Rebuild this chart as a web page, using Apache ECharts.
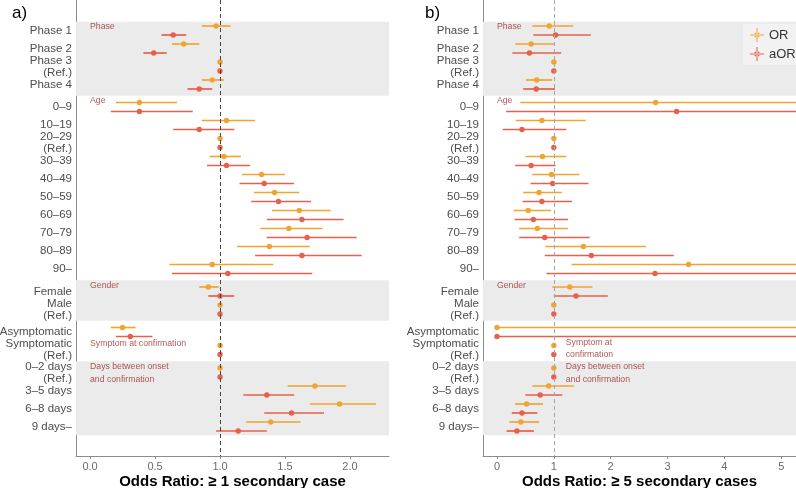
<!DOCTYPE html>
<html>
<head>
<meta charset="utf-8">
<script src="https://cdn.jsdelivr.net/npm/echarts@6/dist/echarts.min.js"></script>
<style>html,body{margin:0;padding:0;background:#fff;}#c{width:796px;height:488px;}</style>
</head>
<body>
<div id="c"></div>
<script>
// ---------- DATA ----------
const groupNames = ['Phase', 'Age', 'Gender', 'Symptom at confirmation', 'Days between onset and confirmation'];
const rowLabels = [
  ['Phase 1', 'Phase 2', 'Phase 3\n(Ref.)', 'Phase 4'],
  ['0–9', '10–19', '20–29\n(Ref.)', '30–39', '40–49', '50–59', '60–69', '70–79', '80–89', '90–'],
  ['Female', 'Male\n(Ref.)'],
  ['Asymptomatic', 'Symptomatic\n(Ref.)'],
  ['0–2 days\n(Ref.)', '3–5 days', '6–8 days', '9 days–']
];
const ticksA = [0, 0.5, 1, 1.5, 2];
const ticksB = [0, 1, 2, 3, 4, 5];

// [estimate, lower, upper] per row, panel a) (>= 1 secondary case)
const orA = [
  [0.97, 0.86, 1.08], [0.72, 0.63, 0.84], [1, 1, 1], [0.94, 0.86, 1.03],
  [0.38, 0.20, 0.67], [1.05, 0.86, 1.27], [1, 1, 1], [1.03, 0.92, 1.16], [1.32, 1.17, 1.50],
  [1.42, 1.26, 1.61], [1.61, 1.40, 1.85], [1.53, 1.31, 1.79], [1.38, 1.13, 1.69], [0.94, 0.61, 1.41],
  [0.91, 0.84, 0.99], [1, 1, 1],
  [0.25, 0.16, 0.35], [1, 1, 1],
  [1, 1, 1], [1.73, 1.52, 1.97], [1.92, 1.69, 2.20], [1.39, 1.20, 1.62]
];
const aorA = [
  [0.64, 0.55, 0.74], [0.49, 0.41, 0.59], [1, 1, 1], [0.84, 0.75, 0.94],
  [0.38, 0.16, 0.79], [0.84, 0.64, 1.11], [1, 1, 1], [1.05, 0.90, 1.23], [1.34, 1.15, 1.57],
  [1.45, 1.24, 1.70], [1.63, 1.36, 1.95], [1.67, 1.36, 2.05], [1.63, 1.27, 2.09], [1.06, 0.63, 1.71],
  [1.00, 0.91, 1.11], [1, 1, 1],
  [0.31, 0.20, 0.48], [1, 1, 1],
  [1, 1, 1], [1.36, 1.18, 1.57], [1.55, 1.34, 1.80], [1.14, 0.97, 1.36]
];
// panel b) (>= 5 secondary cases); upper limits beyond the axis are estimated
const orB = [
  [0.92, 0.62, 1.34], [0.60, 0.32, 1.02], [1, 1, 1], [0.70, 0.51, 0.97],
  [2.79, 0.41, 9.0], [0.79, 0.33, 1.56], [1, 1, 1], [0.80, 0.50, 1.22], [0.96, 0.62, 1.45],
  [0.74, 0.46, 1.14], [0.55, 0.29, 0.95], [0.71, 0.39, 1.25], [1.52, 0.85, 2.62], [3.37, 1.31, 8.7],
  [1.28, 0.97, 1.68], [1, 1, 1],
  [0, 0, 99], [1, 1, 1],
  [1, 1, 1], [0.91, 0.62, 1.35], [0.52, 0.32, 0.81], [0.42, 0.22, 0.74]
];
const aorB = [
  [1.03, 0.64, 1.65], [0.57, 0.27, 1.13], [1, 1, 1], [0.69, 0.46, 1.02],
  [3.16, 0.16, 12.0], [0.44, 0.10, 1.22], [1, 1, 1], [0.60, 0.32, 1.03], [0.98, 0.59, 1.61],
  [0.79, 0.45, 1.32], [0.64, 0.31, 1.25], [0.84, 0.39, 1.63], [1.66, 0.84, 3.11], [2.78, 0.87, 8.9],
  [1.39, 1.00, 1.95], [1, 1, 1],
  [0, 0, 99], [1, 1, 1],
  [1, 1, 1], [0.76, 0.50, 1.15], [0.44, 0.26, 0.71], [0.35, 0.17, 0.65]
];

// ---------- LAYOUT ----------
const C_OR = '#F0A431', C_AOR = '#E6604B';
const xRangeA = [-0.108, 2.3], xRangeB = [-0.246, 5.26];
const yMin = -0.6944, yMax = 24.639;
const rows = [];
rowLabels.forEach((lst, g) => lst.forEach((lab, k) => rows.push({ label: lab, g: g, pos: 1 + rows.length + 0.25 * g })));
const labelMap = {};
rows.forEach(r => labelMap[r.pos.toFixed(2)] = r.label);
const rowPos = rows.map(r => r.pos);

// group extents / bands
const gFirst = [], gLast = [];
rows.forEach(r => { if (gFirst[r.g] === undefined) gFirst[r.g] = r.pos; gLast[r.g] = r.pos; });
const bands = [];
for (let g = 0; g < groupNames.length; g++) {
  const top = g === 0 ? gFirst[g] - 0.48 : (gLast[g - 1] + gFirst[g]) / 2;
  const bot = g === groupNames.length - 1 ? gLast[g] + 0.48 : (gLast[g] + gFirst[g + 1]) / 2;
  if (g % 2 === 0) bands.push([{ yAxis: top }, { yAxis: bot }]);
}
function rowIdx(label) { return rows.findIndex(r => r.label === label); }
function annot(text, x, label, dy) { return { name: text, value: [x, rows[rowIdx(label)].pos + dy] }; }
const annotA = [
  annot('Phase', 0, 'Phase 1', -0.21), annot('Age', 0, '0–9', -0.35), annot('Gender', 0, 'Female', -0.34),
  annot('Symptom at confirmation', 0, 'Symptomatic\n(Ref.)', -0.36),
  annot('Days between onset', 0, '0–2 days\n(Ref.)', -0.33), annot('and confirmation', 0, '0–2 days\n(Ref.)', 0.38)
];
const annotB = [
  annot('Phase', 0, 'Phase 1', -0.21), annot('Age', 0, '0–9', -0.35), annot('Gender', 0, 'Female', -0.34),
  annot('Symptom at', 1.21, 'Symptomatic\n(Ref.)', -0.43), annot('confirmation', 1.21, 'Symptomatic\n(Ref.)', 0.27),
  annot('Days between onset', 1.21, '0–2 days\n(Ref.)', -0.33), annot('and confirmation', 1.21, '0–2 days\n(Ref.)', 0.38)
];

function mkData(vals, off) { return vals.map((v, i) => [rowPos[i] + off, v[0], v[1], v[2]]); }
function mkRender(color, xmax) {
  return function (params, api) {
    const y = api.value(0), est = api.value(1), lo = api.value(2), hi = Math.min(api.value(3), xmax);
    const p0 = api.coord([lo, y]), p1 = api.coord([hi, y]), pc = api.coord([est, y]);
    return { type: 'group', children: [
      { type: 'line', shape: { x1: p0[0], y1: p0[1], x2: p1[0], y2: p1[1] }, style: { stroke: color, lineWidth: 1.7 } },
      { type: 'circle', shape: { cx: pc[0], cy: pc[1], r: 2.7 }, style: { fill: color } }
    ]};
  };
}
const font = 'Liberation Sans, Arial, sans-serif';
function xAxisCfg(idx, range, ticks, dec, name) {
  return {
    type: 'value', gridIndex: idx, min: range[0], max: range[1], position: 'bottom',
    axisLine: { show: true, onZero: false, lineStyle: { color: '#8c8c8c', width: 1 } },
    axisTick: { show: true, length: 3, customValues: ticks, lineStyle: { color: '#8c8c8c' } },
    axisLabel: { customValues: ticks, margin: 5, color: '#6b6b6b', fontSize: 11, fontFamily: font, formatter: v => v.toFixed(dec) },
    splitLine: { show: false },
    name: name, nameLocation: 'middle', nameGap: 18, nameMoveOverlap: false,
    nameTextStyle: { fontSize: 15, fontWeight: 'bold', color: '#000', fontFamily: font, verticalAlign: 'top' }
  };
}
function yAxisCfg(idx) {
  return {
    type: 'value', gridIndex: idx, inverse: true, min: yMin, max: yMax, position: 'left',
    axisLine: { show: true, onZero: false, lineStyle: { color: '#8c8c8c', width: 1 } },
    axisTick: { show: false },
    axisLabel: { customValues: rowPos, margin: 4, color: '#4d4d4d', fontSize: 11.5, lineHeight: 12, fontFamily: font,
      formatter: v => labelMap[v.toFixed(2)] || '' },
    splitLine: { show: false }
  };
}
function bgSeries(idx, lineColor) {
  return [
    { type: 'scatter', xAxisIndex: idx, yAxisIndex: idx, data: [], z: 1, silent: true,
      markArea: { silent: true, itemStyle: { color: '#EBEBEB' }, data: bands } },
    { type: 'scatter', xAxisIndex: idx, yAxisIndex: idx, data: [], z: 2, silent: true,
      markLine: { silent: true, symbol: 'none', label: { show: false },
        lineStyle: { color: lineColor, width: 1, type: [4, 3] }, data: [{ xAxis: 1 }] } }
  ];
}
function annotSeries(idx, data) {
  return { type: 'scatter', xAxisIndex: idx, yAxisIndex: idx, data: data, symbolSize: 0, z: 4, silent: true, clip: false,
    label: { show: true, position: 'right', distance: 0, formatter: p => p.name, color: '#9E2A2B', fontSize: 8.7, fontFamily: font } };
}
function errSeries(idx, name, color, vals, off, xmax) {
  return { type: 'custom', name: name, xAxisIndex: idx, yAxisIndex: idx, z: 3, itemStyle: { color: color },
    renderItem: mkRender(color, xmax), encode: { x: [1, 2, 3], y: 0 }, data: mkData(vals, off) };
}
const legendIcon = 'path://M0,9.3L20,9.3L20,10.7L0,10.7Z M9.3,0L10.7,0L10.7,20L9.3,20Z M6,10A4,4 0 1 0 14,10A4,4 0 1 0 6,10Z';

const chart = echarts.init(document.getElementById('c'), null, { renderer: 'canvas' });
chart.setOption({
  animation: false,
  backgroundColor: '#fff',
  grid: [
    { left: 76, top: 0, width: 313, height: 456, containLabel: false, outerBoundsMode: 'none' },
    { left: 483, top: 0, width: 313, height: 456, containLabel: false, outerBoundsMode: 'none' }
  ],
  xAxis: [
    xAxisCfg(0, xRangeA, ticksA, 1, 'Odds Ratio: ≥ 1 secondary case'),
    xAxisCfg(1, xRangeB, ticksB, 0, 'Odds Ratio: ≥ 5 secondary cases')
  ],
  yAxis: [yAxisCfg(0), yAxisCfg(1)],
  legend: {
    data: [{ name: 'OR', icon: legendIcon }, { name: 'aOR', icon: legendIcon }],
    orient: 'vertical', left: 743, top: 24, itemWidth: 14, itemHeight: 14, itemGap: 5,
    backgroundColor: '#F2F2F2', padding: [4, 8, 4, 7],
    textStyle: { fontSize: 13, color: '#333', fontFamily: font }
  },
  graphic: [
    { type: 'text', left: 12, top: 5, style: { text: 'a)', fontSize: 17, fill: '#000', font: '17px ' + font } },
    { type: 'text', left: 425, top: 5, style: { text: 'b)', fontSize: 17, fill: '#000', font: '17px ' + font } }
  ],
  series: [
    ...bgSeries(0, '#444'),
    ...bgSeries(1, '#a6a6a6'),
    errSeries(0, 'OR', C_OR, orA, -0.25, xRangeA[1]),
    errSeries(0, 'aOR', C_AOR, aorA, 0.25, xRangeA[1]),
    errSeries(1, 'OR', C_OR, orB, -0.25, xRangeB[1]),
    errSeries(1, 'aOR', C_AOR, aorB, 0.25, xRangeB[1]),
    annotSeries(0, annotA),
    annotSeries(1, annotB)
  ]
});
</script>
</body>
</html>
